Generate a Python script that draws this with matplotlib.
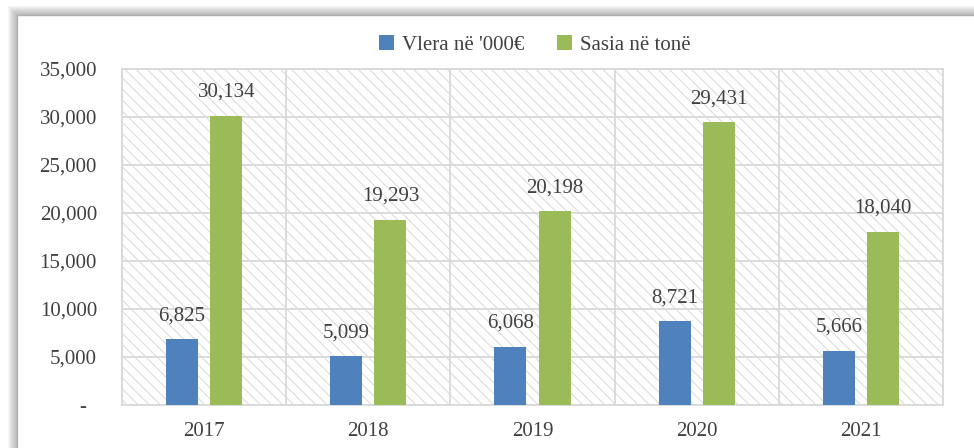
import matplotlib

matplotlib.use("Agg")
import matplotlib.pyplot as plt
import matplotlib.transforms as mtransforms
import numpy as np
from matplotlib.patches import Rectangle
from matplotlib.ticker import FuncFormatter

# Values
YEARS = ["2017", "2018", "2019", "2020", "2021"]
VLERA = [6825, 5099, 6068, 8721, 5666]      # Vlera në '000€
SASIA = [30134, 19293, 20198, 29431, 18040]  # Sasia në tonë
SERIES_NAMES = ["Vlera në '000€", "Sasia në tonë"]

BLUE = "#4F81BD"
GREEN = "#9BBB59"
TEXT = "#404040"
GRID = "#d9d9d9"

plt.rcParams["font.family"] = ["Liberation Serif", "DejaVu Serif"]
plt.rcParams["font.size"] = 15
plt.rcParams["text.color"] = TEXT
plt.rcParams["xtick.color"] = TEXT
plt.rcParams["ytick.color"] = TEXT
plt.rcParams["hatch.linewidth"] = 0.8

W, H = 974, 448
fig = plt.figure(figsize=(W / 100, H / 100), dpi=100)


def px_rect(x0, y0, x1, y1, **kw):
    """Rectangle given in pixel coords (origin top-left) on the figure."""
    return Rectangle((x0 / W, 1 - y1 / H), (x1 - x0) / W, (y1 - y0) / H,
                     transform=fig.transFigure, **kw)


# soft shadow on the left and top of the chart frame
for k in range(9, 0, -1):
    fig.patches.append(px_rect(17 - k, 15 - k, W + 20, H + 20,
                               facecolor="#808080", edgecolor="none",
                               alpha=0.07, zorder=-3))
fig.patches.append(px_rect(17, 15, W + 20, H + 20, facecolor="white",
                           edgecolor="#b0b0b0", linewidth=1.0, zorder=-2))

ax = fig.add_axes([122 / W, (H - 405) / H, 821 / W, 336 / H])
ax.set_facecolor("white")
ax.add_patch(Rectangle((0, 0), 1, 1, transform=ax.transAxes, facecolor="white",
                       edgecolor="#dcdcdc", linewidth=0, hatch="\\\\\\", zorder=0))

x = np.arange(len(YEARS))
width = 0.195
offset = 0.135
b1 = ax.bar(x - offset, VLERA, width, color=BLUE, zorder=3, label=SERIES_NAMES[0])
b2 = ax.bar(x + offset, SASIA, width, color=GREEN, zorder=3, label=SERIES_NAMES[1])

for bars, vals in ((b1, VLERA), (b2, SASIA)):
    for rect, v in zip(bars, vals):
        ax.annotate(f"{v:,}", (rect.get_x() + rect.get_width() / 2, v),
                    xytext=(0, 10), textcoords="offset points",
                    ha="center", va="bottom", zorder=4)

ax.set_xlim(-0.5, len(YEARS) - 0.5)
ax.set_ylim(0, 35000)
ax.set_yticks(np.arange(0, 35001, 5000))
ax.yaxis.set_major_formatter(FuncFormatter(lambda v, _: f"{v:,.0f}" if v else "-"))
ax.set_xticks(x)
ax.set_xticklabels(YEARS)
ax.set_xticks(np.arange(-0.5, len(YEARS), 1.0), minor=True)
ax.tick_params(axis="both", which="both", length=0)
ax.tick_params(axis="y", pad=18)
ax.tick_params(axis="x", pad=12)

ax.grid(axis="y", which="major", color=GRID, linewidth=1.3, zorder=1)
ax.grid(axis="x", which="minor", color=GRID, linewidth=1.3, zorder=1)
ax.grid(axis="x", which="major", visible=False)
ax.set_axisbelow(True)
for sp in ax.spines.values():
    sp.set_color(GRID)
    sp.set_linewidth(1.3)

# Excel puts the zero dash a little left of the other labels
zero_lbl = ax.yaxis.get_major_ticks()[0].label1
zero_lbl.set_transform(zero_lbl.get_transform()
                       + mtransforms.ScaledTranslation(-0.11, 0, fig.dpi_scale_trans))

fig.legend(handles=[b1, b2], loc="center", ncol=2, frameon=False,
           bbox_to_anchor=(535 / W, 1 - 45 / H), handlelength=0.7,
           handleheight=0.7, handletextpad=0.4, columnspacing=1.6,
           borderpad=0)

fig.savefig("out.png", dpi=100)
